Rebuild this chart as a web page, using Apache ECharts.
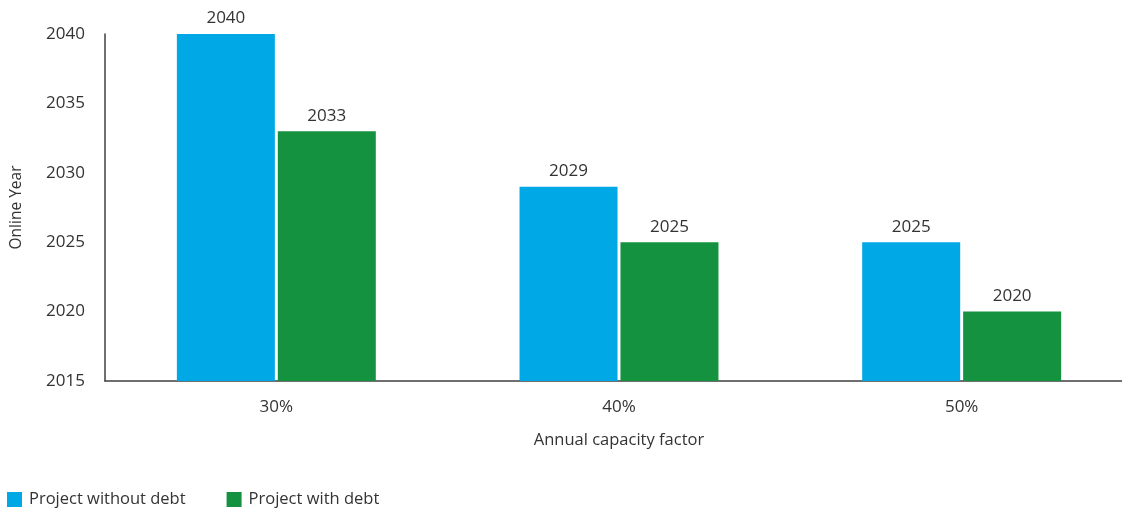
<!DOCTYPE html>
<html>
<head>
<meta charset="utf-8">
<script src="https://cdn.jsdelivr.net/npm/echarts@6/dist/echarts.min.js"></script>
<style>
  html, body { margin: 0; padding: 0; background: #fff; }
  #chart { width: 1122px; height: 511px; }
</style>
</head>
<body>
<div id="chart"></div>
<script>
// Online year of a project by annual capacity factor, with and without debt
const categories = ['30%', '40%', '50%'];
const withoutDebt = [2040, 2029, 2025];
const withDebt = [2033, 2025, 2020];
const seriesNames = ['Project without debt', 'Project with debt'];

const FONT = '"Open Sans", "Noto Sans", sans-serif';
const TEXT = '#333333';

const chart = echarts.init(document.getElementById('chart'));

const labelStyle = {
  show: true,
  position: 'top',
  distance: 7,
  color: TEXT,
  fontFamily: FONT,
  fontSize: 17
};

chart.setOption({
  animation: false,
  textStyle: { fontFamily: FONT, color: TEXT },
  // the category band runs slightly past the right edge; the axis line is clipped there
  grid: {
    left: 105,
    right: -11,
    top: 34,
    bottom: 130,
    containLabel: false,
    outerBoundsMode: 'none'
  },
  legend: {
    data: seriesNames,
    left: 2,
    top: 486,
    itemWidth: 15,
    itemHeight: 15,
    itemGap: 41,
    icon: 'rect',
    textStyle: {
      color: TEXT,
      fontFamily: FONT,
      fontSize: 16.5,
      padding: [0, 0, 0, 2]
    }
  },
  xAxis: {
    type: 'category',
    data: categories,
    name: 'Annual capacity factor',
    nameLocation: 'middle',
    nameGap: 51,
    nameTextStyle: { color: TEXT, fontFamily: FONT, fontSize: 16.5 },
    axisLine: { lineStyle: { color: '#404040', width: 1.5 } },
    axisTick: { show: false },
    axisLabel: { color: TEXT, fontFamily: FONT, fontSize: 17, margin: 18 }
  },
  yAxis: {
    type: 'value',
    min: 2015,
    max: 2040,
    interval: 5,
    name: 'Online Year',
    nameLocation: 'middle',
    nameGap: 80,
    nameTextStyle: { color: TEXT, fontFamily: FONT, fontSize: 15.5 },
    axisLine: { show: true, lineStyle: { color: '#404040', width: 1.5 } },
    axisTick: { show: false },
    splitLine: { show: false },
    axisLabel: {
      color: TEXT,
      fontFamily: FONT,
      fontSize: 17,
      margin: 20,
      formatter: (v) => String(v)
    }
  },
  series: [
    {
      name: seriesNames[0],
      type: 'bar',
      data: withoutDebt,
      barWidth: 98,
      barGap: '3%',
      itemStyle: { color: '#00A9E6' },
      label: labelStyle
    },
    {
      name: seriesNames[1],
      type: 'bar',
      data: withDebt,
      barWidth: 98,
      itemStyle: { color: '#14923F' },
      label: labelStyle
    }
  ]
});
</script>
</body>
</html>
